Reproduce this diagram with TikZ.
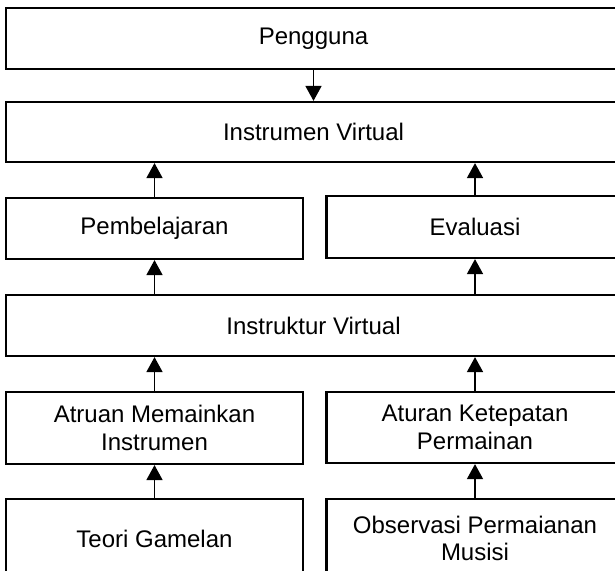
\documentclass[tikz,border=0pt]{standalone}
\usepackage{fontspec}
\setmainfont{Liberation Sans}
\usetikzlibrary{arrows.meta}
\tikzset{
  box/.style={draw=black, line width=2.2pt, fill=white, align=center, inner sep=0pt,
              font=\fontsize{24}{27.5}\selectfont},
  wide/.style={box, minimum width=615pt},
  half/.style={box, minimum width=297pt},
  arr/.style={draw=black, line width=1.6pt, -{Triangle[length=15pt,width=16pt]}}
}
\begin{document}
\begin{tikzpicture}[x=1pt,y=1pt]
  \useasboundingbox (0,0) rectangle (615,570);
  \fill[white] (0,0) rectangle (615,570);
  \clip (0,0) rectangle (615,570);

  % top row
  \node[wide, minimum height=61pt] (peng) at (313.5,531.5) {Pengguna};
  \node[wide, minimum height=60pt] (inst) at (313.5,438) {Instrumen Virtual};

  % learning / evaluation
  \node[half, minimum height=61pt] (pemb) at (154.5,341.5) {Pembelajaran};
  \node[half, minimum height=62pt] (eval) at (475,343) {Evaluasi};

  % virtual instructor
  \node[wide, minimum height=61pt] (instr) at (313.5,244.5) {Instruktur Virtual};

  % rules
  \node[half, minimum height=72pt] (atr) at (154.5,142) {Atruan Memainkan\\Instrumen};
  \node[half, minimum height=71pt] (ket) at (475,142.5) {Aturan Ketepatan\\Permainan};

  % sources
  \node[half, minimum height=79pt] (teori) at (154.5,31.5) {Teori Gamelan};
  \node[half, minimum height=79pt] (obs) at (475,31.5) {Observasi Permaianan\\Musisi};

  % connectors
  \draw[arr] (peng.south) -- (peng.south |- inst.north);
  \draw[arr] (pemb.north) -- (pemb.north |- inst.south);
  \draw[arr] (eval.north) -- (eval.north |- inst.south);
  \draw[arr] (instr.north -| pemb.north) -- (pemb.south);
  \draw[arr] (instr.north -| eval.north) -- (eval.south);
  \draw[arr] (atr.north) -- (atr.north |- instr.south);
  \draw[arr] (ket.north) -- (ket.north |- instr.south);
  \draw[arr] (teori.north) -- (atr.south);
  \draw[arr] (obs.north) -- (ket.south);
\end{tikzpicture}
\end{document}
